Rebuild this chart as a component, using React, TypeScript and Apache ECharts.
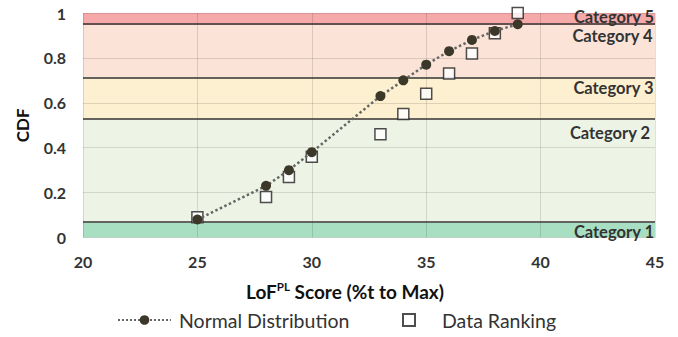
import React, { useEffect, useRef } from "react";
import * as echarts from "echarts";

const scores = [25, 28, 29, 30, 33, 34, 35, 36, 37, 38, 39];
const normalCdf = [0.08, 0.23, 0.3, 0.38, 0.63, 0.7, 0.77, 0.83, 0.88, 0.92, 0.95];
const rankCdf = [0.09, 0.18, 0.27, 0.36, 0.46, 0.55, 0.64, 0.73, 0.82, 0.91, 1.0];
const bandEdges = [0, 0.066, 0.526, 0.712, 0.946, 1];
const bandNames = ["Category 1", "Category 2", "Category 3", "Category 4", "Category 5"];
const bandColors = ["#a8dfc2", "#edf4e6", "#fdf0d0", "#fbe3d7", "#f5a9a9"];
const xTicks = [20, 25, 30, 35, 40, 45];
const yTicks = [0, 0.2, 0.4, 0.6, 0.8, 1];

const FONT = "Lato";
const TXT = "#333";

export default function App() {
  const ref = useRef<HTMLDivElement>(null);
  useEffect(() => {
    if (!ref.current) return;
    const chart = echarts.init(ref.current, undefined, { renderer: "svg" });

    const labelCfg = [
      { position: "insideRight", offset: [0, 2], distance: 1 },
      { position: "insideTopRight", distance: 5 },
      { position: "insideTopRight", distance: 1.5 },
      { position: "insideTopRight", distance: 2.5 },
      { position: "insideRight", offset: [0, -2], distance: 1 },
    ];

    const areas = bandNames.map((n, i) => [
      {
        name: n,
        yAxis: bandEdges[i],
        xAxis: xTicks[0],
        itemStyle: { color: bandColors[i] },
        label: {
          show: true,
          ...labelCfg[i],
          color: TXT,
          fontFamily: FONT,
          fontWeight: "bold",
          fontSize: 16.5,
          lineHeight: 17,
        },
      },
      { yAxis: bandEdges[i + 1], xAxis: xTicks[xTicks.length - 1] },
    ]);

    chart.setOption({
      animation: false,
      grid: { left: 83, right: 23, top: 13, bottom: 99.5 },
      xAxis: {
        type: "value",
        min: xTicks[0],
        max: xTicks[xTicks.length - 1],
        interval: 5,
        z: 1.5,
        axisLine: { show: false },
        axisTick: { show: false },
        splitLine: { show: true, lineStyle: { color: "rgba(0,0,0,0.12)", width: 1 } },
        axisLabel: { color: TXT, fontFamily: FONT, fontWeight: "bold", fontSize: 16, margin: 16 },
        name: "{a|LoF}{s|PL}{a| Score (%t to Max)}",
        nameLocation: "middle",
        nameGap: 43,
        nameTextStyle: {
          padding: [0, 48, 0, 0],
          rich: {
            a: { fontFamily: FONT, fontWeight: "bold", fontSize: 19, color: "#111", lineHeight: 21 },
            s: { fontFamily: FONT, fontWeight: "bold", fontSize: 11.5, color: "#111", verticalAlign: "top", lineHeight: 21, padding: [0, 0, 7, 0] },
          },
        },
      },
      yAxis: {
        type: "value",
        min: yTicks[0],
        max: yTicks[yTicks.length - 1],
        interval: 0.2,
        z: 1.5,
        axisLine: { show: false },
        axisTick: { show: false },
        splitLine: { show: true, lineStyle: { color: "rgba(0,0,0,0.12)", width: 1 } },
        axisLabel: { color: TXT, fontFamily: FONT, fontWeight: "bold", fontSize: 16, margin: 17 },
        name: "CDF",
        nameLocation: "middle",
        nameGap: 52,
        nameTextStyle: { color: "#111", fontFamily: FONT, fontWeight: "bold", fontSize: 17 },
      },
      legend: [
        {
          left: 117,
          top: 310,
          padding: 0,
          itemWidth: 53,
          itemHeight: 12,
          data: ["Normal Distribution"],
          textStyle: { color: TXT, fontFamily: FONT, fontSize: 19.5, padding: [0, 0, 0, 3] },
        },
        {
          left: 402,
          top: 310,
          padding: 0,
          itemWidth: 12,
          itemHeight: 12,
          data: ["Data Ranking"],
          textStyle: { color: TXT, fontFamily: FONT, fontSize: 19.5, padding: [0, 0, 0, 22] },
        },
      ],
      series: [
        {
          name: "bands",
          type: "line",
          z: 1,
          data: [],
          markArea: { silent: true, data: areas },
          markLine: {
            silent: true,
            symbol: "none",
            label: { show: false },
            lineStyle: { color: "#333", width: 1.5, type: "solid" },
            data: bandEdges.slice(1, 5).map((v) => ({ yAxis: v })),
          },
        },
        {
          name: "Data Ranking",
          type: "scatter",
          z: 5,
          symbol: "rect",
          symbolSize: 11,
          itemStyle: { color: "#fff", borderColor: "#222", borderWidth: 1.5 },
          data: scores.map((x, i) => [x, rankCdf[i]]),
        },
        {
          name: "Normal Distribution",
          type: "line",
          z: 6,
          symbol: "circle",
          symbolSize: 10,
          itemStyle: { color: "#3b3729" },
          lineStyle: { color: "#666", width: 2.5, type: "dotted" },
          data: scores.map((x, i) => [x, normalCdf[i]]),
        },
      ],
    });
    return () => chart.dispose();
  }, []);
  return <div ref={ref} style={{ width: 678, height: 337, position: "absolute", left: 0, top: 0 }} />;
}
